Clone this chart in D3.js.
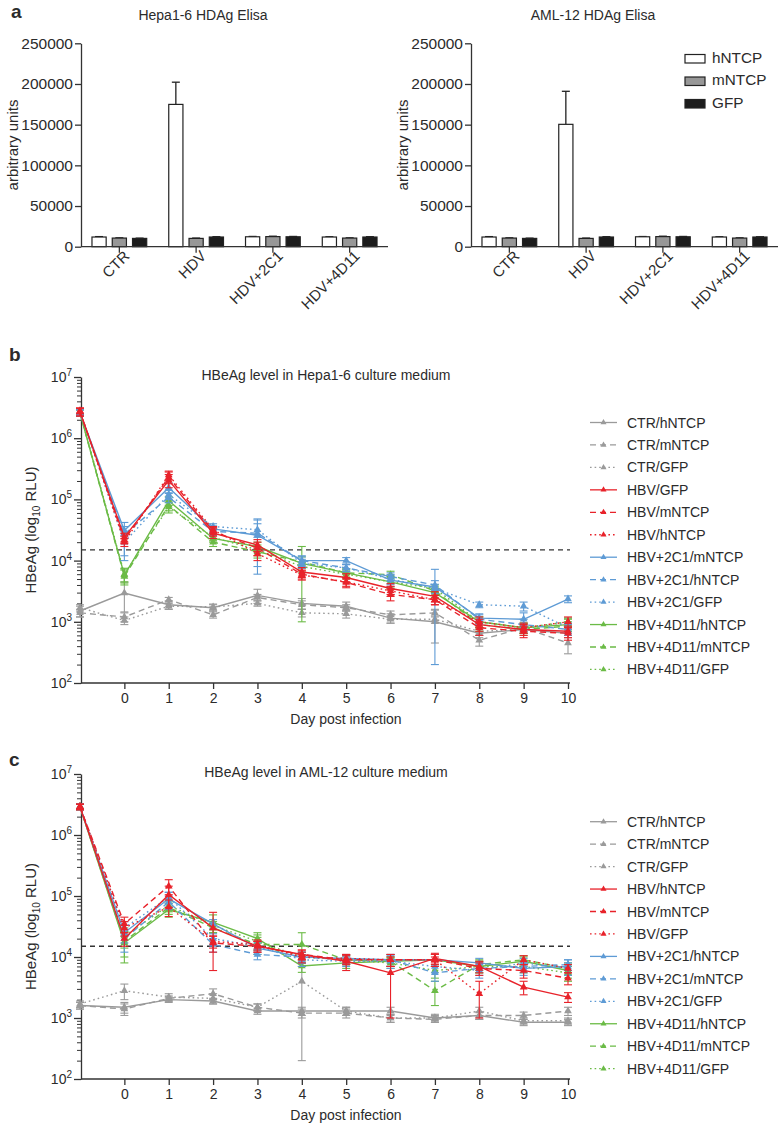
<!DOCTYPE html>
<html><head><meta charset="utf-8">
<script src="https://cdn.jsdelivr.net/npm/d3@7"></script>
<style>
body{margin:0;background:#fff}
text{font-family:"Liberation Sans",Arial,Helvetica,sans-serif;fill:#2b2b2b}
</style>
</head><body><svg id="chart" width="784" height="1126"></svg>
<script>
// ---------- Panel a data ----------
const barCategories = ["CTR","HDV","HDV+2C1","HDV+4D11"];
const barGroups = ["hNTCP","mNTCP","GFP"];
const barTicks = [0,50000,100000,150000,200000,250000];
const hepaBarMean = [[11900,10600,10200],[174900,10200,11900],[12200,12400,12200],[11900,10600,11900]];
const hepaBarErr  = [[500,300,300],[27300,400,400],[400,500,400],[300,300,400]];
const amlBarMean  = [[11900,10600,10200],[150400,10200,11900],[12200,12400,12200],[11900,10600,11900]];
const amlBarErr   = [[500,300,300],[40600,400,400],[300,500,400],[300,300,300]];

// ---------- Panels b/c data ----------
const days = [-1,0,1,2,3,4,5,6,7,8,9,10];
const dayTicks = [0,1,2,3,4,5,6,7,8,9,10];
const logTicks = [1e2,1e3,1e4,1e5,1e6,1e7];
const cutoff = 15000;

const hepaNames = ["CTR/hNTCP","CTR/mNTCP","CTR/GFP","HBV/GFP","HBV/mNTCP","HBV/hNTCP",
  "HBV+2C1/mNTCP","HBV+2C1/hNTCP","HBV+2C1/GFP","HBV+4D11/hNTCP","HBV+4D11/mNTCP","HBV+4D11/GFP"];
const hepaMean = [
  [1500,2950,1900,1700,2700,2000,1800,1150,1000,650,750,650],
  [1400,1200,2300,1300,2500,1900,1700,1300,1400,500,800,450],
  [1700,1050,1800,1750,2000,1400,1350,1100,1100,700,750,1000],
  [2700000,24000,205000,28000,18000,6500,5300,3500,2600,900,750,700],
  [2700000,22000,230000,30000,16000,6000,4400,2800,2300,800,700,650],
  [2800000,20000,250000,32000,13000,5800,4500,3200,2300,1000,800,1000],
  [2600000,31000,155000,33000,26000,10000,10000,4800,3700,1150,1100,2350],
  [2600000,27000,108000,30000,28000,10000,7600,5500,4000,1100,900,750],
  [2700000,20000,120000,36000,32000,9000,7600,5000,3500,1900,1800,800],
  [2600000,5800,95000,23000,17000,9000,6300,4500,3000,1000,800,900],
  [2600000,5500,80000,20000,14000,9500,6300,5900,3200,900,750,850],
  [2700000,6000,75000,24000,15000,8000,6000,4500,3500,1000,800,1000]
];
const hepaSd = [
  [300,1500,300,200,700,400,300,200,550,100,100,100],
  [200,200,200,150,300,300,200,200,200,100,150,150],
  [200,150,200,200,200,200,200,150,150,100,100,150],
  [400000,4000,50000,5000,4000,1200,800,700,500,200,150,150],
  [400000,3000,50000,5000,4000,1000,800,600,400,200,150,150],
  [300000,3000,40000,4000,3000,1000,700,600,400,200,150,200],
  [300000,5000,30000,4000,20000,1500,1200,1000,3500,200,300,300],
  [300000,15000,20000,4000,20000,2000,1000,800,700,200,200,150],
  [300000,10000,20000,4000,8000,1500,1000,900,600,200,300,150],
  [300000,1500,15000,3000,3000,8000,1000,1000,500,200,150,200],
  [300000,1500,15000,3000,3000,2000,1000,800,500,200,150,150],
  [300000,1500,15000,3000,3000,1500,1000,800,500,200,150,150]
];

const amlNames = ["CTR/hNTCP","CTR/mNTCP","CTR/GFP","HBV/hNTCP","HBV/mNTCP","HBV/GFP",
  "HBV+2C1/hNTCP","HBV+2C1/mNTCP","HBV+2C1/GFP","HBV+4D11/hNTCP","HBV+4D11/mNTCP","HBV+4D11/GFP"];
const amlMean = [
  [1600,1500,2000,1900,1300,1300,1300,1300,1000,1100,850,850],
  [1600,1400,2100,2500,1500,1200,1200,1000,950,1100,1100,1300],
  [1700,2800,2200,2100,1500,4000,1300,1000,1000,1300,900,900],
  [2900000,20000,105000,30000,15000,11000,8500,5500,9500,7000,3200,2200],
  [2900000,35000,145000,17000,15000,11000,9000,9000,9000,6500,6000,4500],
  [2900000,30000,66000,18000,16000,10000,9500,9000,9000,2500,9000,6500],
  [2900000,25000,90000,35000,14000,10000,9500,9000,9000,8000,6500,7000],
  [2900000,20000,80000,16000,11000,10000,9000,9000,5500,6500,7000,7500],
  [2900000,30000,95000,20000,15000,9000,8500,8500,7000,6000,8000,6500],
  [2900000,17000,60000,37000,20000,7100,8000,8500,9000,7000,8500,6000],
  [2900000,18000,65000,30000,16000,16000,9000,8500,2800,7500,9000,6500],
  [2900000,22000,70000,33000,18000,10000,9000,8000,6000,7000,7000,5500]
];
const amlSd = [
  [200,300,200,200,150,200,200,200,100,150,100,100],
  [200,300,200,500,200,200,200,150,100,150,150,200],
  [200,800,300,400,200,3800,200,150,150,200,100,100],
  [300000,5000,40000,24000,3000,2000,2500,4500,2000,1500,800,400],
  [300000,10000,40000,5000,3000,2000,1500,2000,2000,1500,1500,1000],
  [300000,8000,20000,4000,3000,2000,1500,2000,1000,1500,1500,1000],
  [300000,8000,25000,6000,3000,2000,1500,2000,2000,1500,1500,2000],
  [300000,8000,20000,4000,2000,2000,1500,2000,1500,1500,1500,1500],
  [300000,8000,20000,4000,3000,2000,1500,2000,1500,1500,1500,1500],
  [300000,9000,15000,12000,5000,1500,1500,1500,2000,1500,1500,1500],
  [300000,8000,15000,5000,5000,9000,1500,1500,1200,1500,1500,1500],
  [300000,8000,15000,5000,5000,2000,1500,1500,1500,1500,1500,1500]
];

// ---------- styling ----------
const seriesColors = ["#9a9a9a","#e8222a","#5e9bd5","#6bbb46"];
const seriesDash = [null,"6,4","1.6,3"];
const barFills = ["#ffffff","#979797","#1c1c1c"];
const axisColor = "#333";

const svg = d3.select("#chart");

// ================= Panel a =================
function barPanel(x0, x1, title, means, errs, showLegend){
  const g = svg.append("g");
  const y = d3.scaleLinear().domain([0,250000]).range([246.7,43.3]);
  const xb = d3.scaleBand().domain(barCategories).range([x0,x1]).paddingInner(0.287).paddingOuter(0.143);
  const xi = d3.scaleBand().domain(barGroups).range([0,xb.bandwidth()]).paddingInner(0.3);
  barCategories.forEach((c,ci)=>{
    barGroups.forEach((s,si)=>{
      const bx = xb(c)+xi(s), bw = xi.bandwidth();
      const v = means[ci][si], e = errs[ci][si];
      g.append("line").attr("x1",bx+bw/2).attr("x2",bx+bw/2).attr("y1",y(v)).attr("y2",y(v+e))
        .attr("stroke","#222").attr("stroke-width",1.3);
      g.append("line").attr("x1",bx+bw/2-4).attr("x2",bx+bw/2+4).attr("y1",y(v+e)).attr("y2",y(v+e))
        .attr("stroke","#222").attr("stroke-width",1.3);
      g.append("rect").attr("x",bx).attr("y",y(v)).attr("width",bw).attr("height",y(0)-y(v))
        .attr("fill",barFills[si]).attr("stroke","#222").attr("stroke-width",1.2);
    });
  });
  const ya = g.append("g").attr("transform",`translate(${x0},0)`)
    .call(d3.axisLeft(y).tickValues(barTicks).tickFormat(d3.format("d")).tickSize(6).tickSizeOuter(0));
  ya.select(".domain").attr("stroke",axisColor).attr("stroke-width",1.3);
  ya.selectAll(".tick line").attr("stroke",axisColor).attr("stroke-width",1.3);
  ya.selectAll(".tick text").attr("font-size",15.5).attr("x",-8).attr("fill","#2b2b2b")
    .style("font-family",'"Liberation Sans",Arial,sans-serif');
  const xa = g.append("g").attr("transform",`translate(0,${y(0)})`)
    .call(d3.axisBottom(xb).tickSize(6).tickSizeOuter(0).tickFormat(""));
  xa.select(".domain").attr("stroke",axisColor).attr("stroke-width",1.3).attr("d",`M${x0},0H${x1}`);
  xa.selectAll(".tick line").attr("stroke",axisColor).attr("stroke-width",1.3);
  barCategories.forEach(c=>{
    const cx = xb(c)+xb.bandwidth()/2;
    g.append("text").attr("transform",`translate(${cx+11},${257}) rotate(-45)`)
      .attr("text-anchor","end").attr("font-size",15).text(c);
  });
  g.append("text").attr("x",x0+122).attr("y",20).attr("text-anchor","middle")
    .attr("font-size",14).text(title);
  g.append("text").attr("transform",`translate(${x0-63},${145}) rotate(-90)`)
    .attr("text-anchor","middle").attr("font-size",15).text("arbitrary units");
  if(showLegend){
    barGroups.forEach((s,i)=>{
      const ly = 54.5 + i*22.5;
      g.append("rect").attr("x",685).attr("y",ly).attr("width",20).attr("height",8.5)
        .attr("fill",barFills[i]).attr("stroke","#222").attr("stroke-width",1.2);
      g.append("text").attr("x",712).attr("y",ly+8).attr("font-size",15.3).text(s);
    });
  }
}
svg.append("text").attr("x",11).attr("y",18).attr("font-size",19).attr("font-weight","bold").text("a");
barPanel(81, 388, "Hepa1-6 HDAg Elisa", hepaBarMean, hepaBarErr, false);
barPanel(471, 778, "AML-12 HDAg Elisa", amlBarMean, amlBarErr, true);

// ================= Panels b, c =================
function timePanel(yTop, yBot, title, names, means, sds, legendY, letter, letterY){
  const g = svg.append("g");
  const x = d3.scaleLinear().domain([-1,10]).range([80,568]);
  const y = d3.scaleLog().domain([1e2,1e7]).range([yBot,yTop]);
  const minor = [];
  for(let e=2;e<7;e++) for(let m=2;m<10;m++) minor.push(m*Math.pow(10,e));
  const ymin = g.append("g").attr("transform",`translate(81,0)`)
    .call(d3.axisLeft(y).tickValues(minor).tickSize(4).tickFormat(""));
  ymin.select(".domain").remove();
  ymin.selectAll(".tick line").attr("stroke",axisColor).attr("stroke-width",1);
  const ya = g.append("g").attr("transform",`translate(81,0)`)
    .call(d3.axisLeft(y).tickValues(logTicks).tickSize(7).tickSizeOuter(0).tickFormat(""));
  ya.select(".domain").attr("stroke",axisColor).attr("stroke-width",1.3);
  ya.selectAll(".tick line").attr("stroke",axisColor).attr("stroke-width",1.3);
  logTicks.forEach(t=>{
    const tx = g.append("text").attr("x",72).attr("y",y(t)+5).attr("text-anchor","end").attr("font-size",14);
    tx.append("tspan").text("10");
    tx.append("tspan").attr("dy",-6).attr("font-size",10).text(Math.round(Math.log10(t)));
  });
  const xa = g.append("g").attr("transform",`translate(0,${yBot})`)
    .call(d3.axisBottom(x).tickValues(dayTicks).tickSize(6).tickSizeOuter(0).tickFormat(d3.format("d")));
  xa.select(".domain").attr("stroke",axisColor).attr("stroke-width",1.3).attr("d",`M81,0H570`);
  xa.selectAll(".tick line").attr("stroke",axisColor).attr("stroke-width",1.3);
  xa.selectAll(".tick text").attr("font-size",14).attr("y",10).attr("fill","#2b2b2b")
    .style("font-family",'"Liberation Sans",Arial,sans-serif');
  g.append("text").attr("x",346).attr("y",yBot+41).attr("text-anchor","middle").attr("font-size",14)
    .text("Day post infection");
  const yl = g.append("text").attr("transform",`translate(36,${(yTop+yBot)/2}) rotate(-90)`)
    .attr("text-anchor","middle").attr("font-size",15);
  yl.append("tspan").text("HBeAg (log");
  yl.append("tspan").attr("dy",4).attr("font-size",10).text("10");
  yl.append("tspan").attr("dy",-4).text(" RLU)");
  g.append("text").attr("x",326).attr("y",yTop+3).attr("text-anchor","middle").attr("font-size",14).text(title);
  svg.append("text").attr("x",9).attr("y",letterY).attr("font-size",19).attr("font-weight","bold").text(letter);
  g.append("line").attr("x1",81).attr("x2",570).attr("y1",y(cutoff)).attr("y2",y(cutoff))
    .attr("stroke","#333").attr("stroke-width",1.3).attr("stroke-dasharray","5,4");
  const order = [0,1,2,9,10,11,6,7,8,3,4,5];
  const line = d3.line().x((d,i)=>x(days[i])).y(d=>y(d));
  const tri = d3.symbol().type(d3.symbolTriangle).size(26);
  order.forEach(si=>{
    const col = seriesColors[Math.floor(si/3)], dash = seriesDash[si%3];
    const sg = g.append("g");
    means[si].forEach((v,i)=>{
      const sd = sds[si][i];
      const lo = Math.max(v - sd, 110), hi = v + sd;
      const xx = x(days[i]);
      sg.append("line").attr("x1",xx).attr("x2",xx).attr("y1",y(lo)).attr("y2",y(hi))
        .attr("stroke",col).attr("stroke-width",1.1);
      [lo,hi].forEach(b=>sg.append("line").attr("x1",xx-4).attr("x2",xx+4).attr("y1",y(b)).attr("y2",y(b))
        .attr("stroke",col).attr("stroke-width",1.1));
    });
    sg.append("path").datum(means[si]).attr("d",line).attr("fill","none").attr("stroke",col)
      .attr("stroke-width",1.4).attr("stroke-dasharray",dash);
    means[si].forEach((v,i)=>{
      sg.append("path").attr("d",tri).attr("transform",`translate(${x(days[i])},${y(v)})`).attr("fill",col);
    });
  });
  names.forEach((n,si)=>{
    const col = seriesColors[Math.floor(si/3)], dash = seriesDash[si%3];
    const ly = legendY + si*22.45;
    g.append("line").attr("x1",590).attr("x2",617).attr("y1",ly).attr("y2",ly)
      .attr("stroke",col).attr("stroke-width",1.3).attr("stroke-dasharray",dash);
    g.append("path").attr("d",d3.symbol().type(d3.symbolTriangle).size(16)).attr("transform",`translate(603.5,${ly})`)
      .attr("fill",col);
    g.append("text").attr("x",627).attr("y",ly+5).attr("font-size",14).text(n);
  });
}
timePanel(377, 683, "HBeAg level in Hepa1-6 culture medium", hepaNames, hepaMean, hepaSd, 422.5, "b", 361);
timePanel(774, 1079, "HBeAg level in AML-12 culture medium", amlNames, amlMean, amlSd, 821.7, "c", 766);
</script></body></html>
